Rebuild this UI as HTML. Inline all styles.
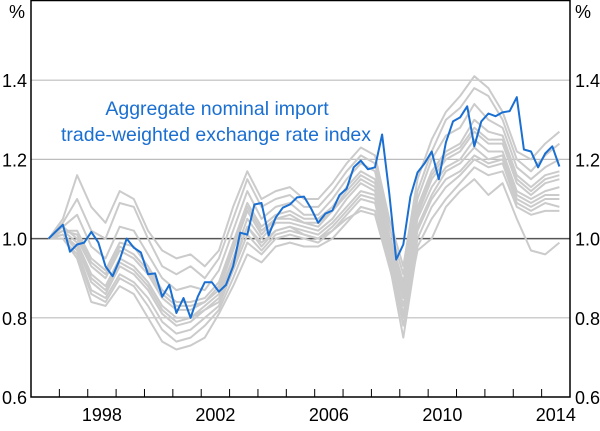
<!DOCTYPE html>
<html><head><meta charset="utf-8"><style>
body{margin:0;background:#fff}
svg text{font-family:"Liberation Sans",Arial,sans-serif;font-size:18px;fill:#000}
svg text.ann{font-size:19.5px;fill:#1a6fd1}
</style></head><body>
<svg id="chart" width="600" height="426" viewBox="0 0 600 426" xmlns="http://www.w3.org/2000/svg">
<g id="grid"></g>
<g id="gray"></g>
<g id="blue"></g>
<g id="axes"></g>
<text class="ann" x="217" y="115" text-anchor="middle">Aggregate nominal import</text>
<text class="ann" x="216" y="141" text-anchor="middle">trade-weighted exchange rate index</text>
</svg>
<script>
const yTicks=[0.6,0.8,1.0,1.2,1.4];
const yTickLabels=["0.6","0.8","1.0","1.2","1.4"];
const xYears=[1998,2002,2006,2010,2014];
const startTime=1996.625;
const blueValues=[1.000,1.018,1.035,0.967,0.985,0.99,1.017,0.99,0.93,0.905,0.947,1.0,0.977,0.965,0.91,0.912,0.853,0.883,0.812,0.85,0.80,0.853,0.89,0.89,0.866,0.883,0.93,1.015,1.01,1.086,1.09,1.008,1.053,1.078,1.086,1.104,1.106,1.076,1.04,1.063,1.071,1.11,1.126,1.18,1.197,1.175,1.18,1.263,1.116,0.947,0.985,1.106,1.167,1.19,1.22,1.15,1.243,1.296,1.306,1.334,1.233,1.296,1.316,1.309,1.319,1.322,1.357,1.225,1.22,1.18,1.215,1.233,1.182];
const gray1=[1.00,1.05,1.16,1.08,1.04,1.12,1.10,1.02,0.97,0.95,0.96,0.93,0.97,1.08,1.17,1.10,1.12,1.13,1.10,1.10,1.14,1.19,1.23,1.21,1.05,0.93,1.15,1.25,1.32,1.36,1.41,1.38,1.32,1.22,1.20,1.24,1.27];
const gray2=[1.00,1.04,1.10,1.02,1.00,1.09,1.08,1.00,0.93,0.91,0.93,0.90,0.95,1.05,1.15,1.08,1.10,1.11,1.08,1.08,1.12,1.17,1.21,1.19,1.03,0.91,1.12,1.22,1.30,1.33,1.38,1.36,1.30,1.20,1.17,1.21,1.24];
const gray3=[1.00,1.03,1.06,0.98,0.95,1.03,1.02,0.96,0.90,0.87,0.88,0.87,0.92,1.02,1.12,1.05,1.08,1.09,1.06,1.06,1.10,1.15,1.19,1.17,1.01,0.89,1.10,1.20,1.26,1.28,1.34,1.30,1.28,1.18,1.15,1.18,1.20];
const gray4=[1.00,1.02,1.02,0.95,0.92,0.99,0.98,0.93,0.87,0.84,0.84,0.85,0.89,0.99,1.09,1.03,1.06,1.07,1.05,1.05,1.08,1.13,1.17,1.15,1.00,0.87,1.08,1.17,1.22,1.24,1.30,1.27,1.26,1.16,1.13,1.16,1.17];
const gray5=[1.00,1.03,1.00,0.93,0.90,0.97,0.95,0.91,0.85,0.82,0.82,0.84,0.87,0.97,1.07,1.01,1.05,1.05,1.04,1.03,1.07,1.11,1.15,1.13,0.99,0.86,1.06,1.15,1.20,1.22,1.27,1.24,1.24,1.14,1.11,1.14,1.15];
const gray6=[1.00,1.02,0.99,0.91,0.88,0.95,0.93,0.89,0.83,0.80,0.80,0.83,0.86,0.95,1.05,1.00,1.04,1.04,1.03,1.02,1.05,1.10,1.14,1.12,0.98,0.85,1.05,1.13,1.18,1.20,1.25,1.22,1.22,1.12,1.10,1.12,1.13];
const gray7=[1.00,1.01,0.98,0.89,0.86,0.93,0.91,0.87,0.81,0.78,0.79,0.82,0.84,0.93,1.03,0.98,1.02,1.03,1.02,1.01,1.04,1.08,1.12,1.11,0.97,0.83,1.03,1.11,1.17,1.19,1.23,1.20,1.21,1.11,1.09,1.11,1.11];
const gray8=[1.00,1.01,0.97,0.87,0.85,0.91,0.89,0.85,0.79,0.76,0.77,0.80,0.83,0.92,1.01,0.97,1.01,1.02,1.01,1.00,1.03,1.07,1.11,1.10,0.96,0.81,1.02,1.10,1.15,1.17,1.21,1.19,1.20,1.10,1.08,1.10,1.10];
const gray9=[1.00,1.00,0.96,0.86,0.84,0.90,0.88,0.83,0.77,0.74,0.75,0.78,0.82,0.90,0.99,0.96,1.00,1.01,1.00,0.99,1.02,1.06,1.10,1.09,0.95,0.78,1.00,1.08,1.13,1.16,1.20,1.18,1.19,1.09,1.07,1.09,1.08];
const gray10=[1.00,1.00,0.95,0.84,0.83,0.88,0.86,0.80,0.74,0.72,0.73,0.75,0.81,0.88,0.96,0.94,0.98,0.99,0.98,0.98,1.00,1.04,1.08,1.07,0.94,0.75,0.98,1.05,1.10,1.14,1.18,1.16,1.17,1.08,1.06,1.07,1.07];
const gray11=[1.00,1.01,0.98,0.90,0.87,0.94,0.92,0.88,0.82,0.79,0.80,0.82,0.85,0.94,1.03,0.99,1.02,1.03,1.01,1.00,1.02,1.05,1.07,1.06,0.93,0.80,0.97,1.00,1.08,1.12,1.15,1.11,1.14,1.05,0.97,0.96,0.99];
const gray12=[1.00,1.02,1.01,0.94,0.91,0.98,0.96,0.92,0.86,0.83,0.83,0.84,0.88,0.98,1.08,1.02,1.05,1.06,1.04,1.04,1.07,1.12,1.16,1.14,1.00,0.88,1.07,1.16,1.21,1.23,1.28,1.25,1.25,1.15,1.12,1.15,1.16];
const graySeries=[gray1,gray2,gray3,gray4,gray5,gray6,gray7,gray8,gray9,gray10,gray11,gray12];

const L=31,R=570,T=1,B=397;
const x=t=>L+(t-1996)*(R-L)/19;
const y=v=>B-(v-0.6)*(B-T)/1.0;
const NS="http://www.w3.org/2000/svg";
function mk(tag,parent,attrs){const e=document.createElementNS(NS,tag);for(const k in attrs)e.setAttribute(k,attrs[k]);parent.appendChild(e);return e;}
const grid=document.getElementById('grid'),axes=document.getElementById('axes');
yTicks.forEach((v,i)=>{
  if(v>0.6){const g=mk('line',grid,{x1:L,x2:R,y1:y(v),y2:y(v),stroke:v===1.0?'#555':'#bdbdbd','stroke-width':v===1.0?1.5:1.2});
  
  }
  const tl=mk('text',axes,{x:L-4,y:y(v)+7,'text-anchor':'end'});tl.textContent=yTickLabels[i];
  
  
  const tr=mk('text',axes,{x:R+5,y:y(v)+7,'text-anchor':'start'});tr.textContent=yTickLabels[i];
  
  
});
const p1=mk('text',axes,{x:17,y:18,'text-anchor':'middle'});p1.textContent='%';


const p2=mk('text',axes,{x:583,y:18,'text-anchor':'middle'});p2.textContent='%';


for(let yr=1997;yr<=2014;yr++){const tk=mk('line',axes,{x1:x(yr),x2:x(yr),y1:B,y2:B-8,stroke:'#000','stroke-width':1});
  
  }
xYears.forEach(yr=>{const t=mk('text',axes,{x:x(yr+0.5),y:421,'text-anchor':'middle'});t.textContent=yr;
  
  });
const fr=mk('rect',axes,{x:L,y:T-0.5,width:R-L,height:B-T+0.5,fill:'none',stroke:'#000','stroke-width':1.5});


const gg=document.getElementById('gray');
graySeries.forEach((s,j)=>{
  const d=s.map((v,i)=>(i?'L':'M')+x(startTime+i*0.5).toFixed(1)+' '+y(v).toFixed(1)).join(' ');
  const p=mk('path',gg,{d:d,fill:'none',stroke:'#cbcbcb','stroke-width':2,'stroke-linejoin':'round'});
  
  
});
const bd=blueValues.map((v,i)=>(i?'L':'M')+x(startTime+i*0.25).toFixed(1)+' '+y(v).toFixed(1)).join(' ');
const bp=mk('path',document.getElementById('blue'),{d:bd,fill:'none',stroke:'#1a6fd1','stroke-width':2,'stroke-linejoin':'round'});


</script>
</body></html>
